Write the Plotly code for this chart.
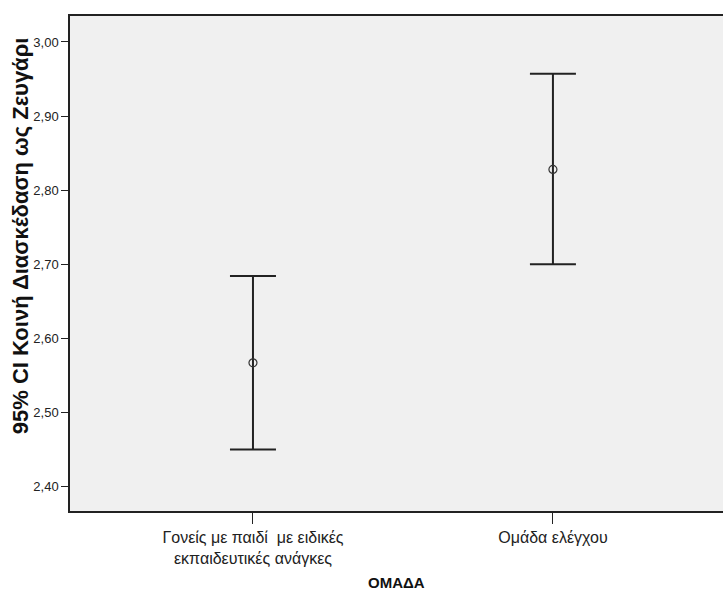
import plotly.graph_objects as go

# Group means with 95% confidence interval limits
groups = ["Γονείς με παιδί  με ειδικές<br>εκπαιδευτικές ανάγκες", "Ομάδα ελέγχου"]
means = [2.567, 2.828]
ci_upper = [2.684, 2.957]
ci_lower = [2.450, 2.700]

y_ticks = [2.40, 2.50, 2.60, 2.70, 2.80, 2.90, 3.00]
y_tick_text = ["2,40", "2,50", "2,60", "2,70", "2,80", "2,90", "3,00"]

FONT = "Liberation Sans, Arial, sans-serif"
INK = "#222222"

err_plus = [u - m for u, m in zip(ci_upper, means)]
err_minus = [m - l for m, l in zip(means, ci_lower)]

fig = go.Figure()
fig.add_trace(go.Scatter(
    x=groups,
    y=means,
    mode="markers",
    marker=dict(symbol="circle-open", size=8, color="#333333", line=dict(width=1.2, color="#333333")),
    error_y=dict(
        type="data",
        symmetric=False,
        array=err_plus,
        arrayminus=err_minus,
        color=INK,
        thickness=2,
        width=23,
    ),
    showlegend=False,
    hoverinfo="skip",
))

fig.update_layout(
    width=723,
    height=590,
    margin=dict(l=70, r=0, t=16, b=79),
    paper_bgcolor="white",
    plot_bgcolor="#f0f0f0",
    font=dict(family=FONT, size=13, color=INK),
    xaxis=dict(
        type="category",
        categoryorder="array",
        categoryarray=groups,
        range=[-0.61, 1.567],
        showgrid=False,
        zeroline=False,
        showline=True,
        mirror=True,
        linecolor=INK,
        linewidth=1.5,
        ticks="outside",
        ticklen=11,
        tickwidth=1.2,
        tickcolor=INK,
        tickfont=dict(family=FONT, size=16, color=INK),
        fixedrange=True,
    ),
    yaxis=dict(
        range=[2.367, 3.035],
        tickvals=y_ticks,
        ticktext=y_tick_text,
        showgrid=False,
        zeroline=False,
        showline=True,
        linecolor=INK,
        linewidth=1.5,
        ticks="outside",
        ticklen=7,
        tickwidth=1.2,
        tickcolor=INK,
        tickfont=dict(family=FONT, size=13, color=INK),
        fixedrange=True,
    ),
    annotations=[
        dict(
            text="<b>95% CI Κοινή Διασκέδαση ως Ζευγάρι</b>",
            xref="paper", yref="paper",
            x=-0.0766, y=0.557,
            xanchor="center", yanchor="middle",
            textangle=-90,
            showarrow=False,
            font=dict(family=FONT, size=22, color="#111111"),
        ),
        dict(
            text="<b>ΟΜΑΔΑ</b>",
            xref="paper", yref="paper",
            x=0.5, y=-0.145,
            xanchor="center", yanchor="middle",
            showarrow=False,
            font=dict(family=FONT, size=15, color="#111111"),
        ),
    ],
)

fig.write_html("out.html")
